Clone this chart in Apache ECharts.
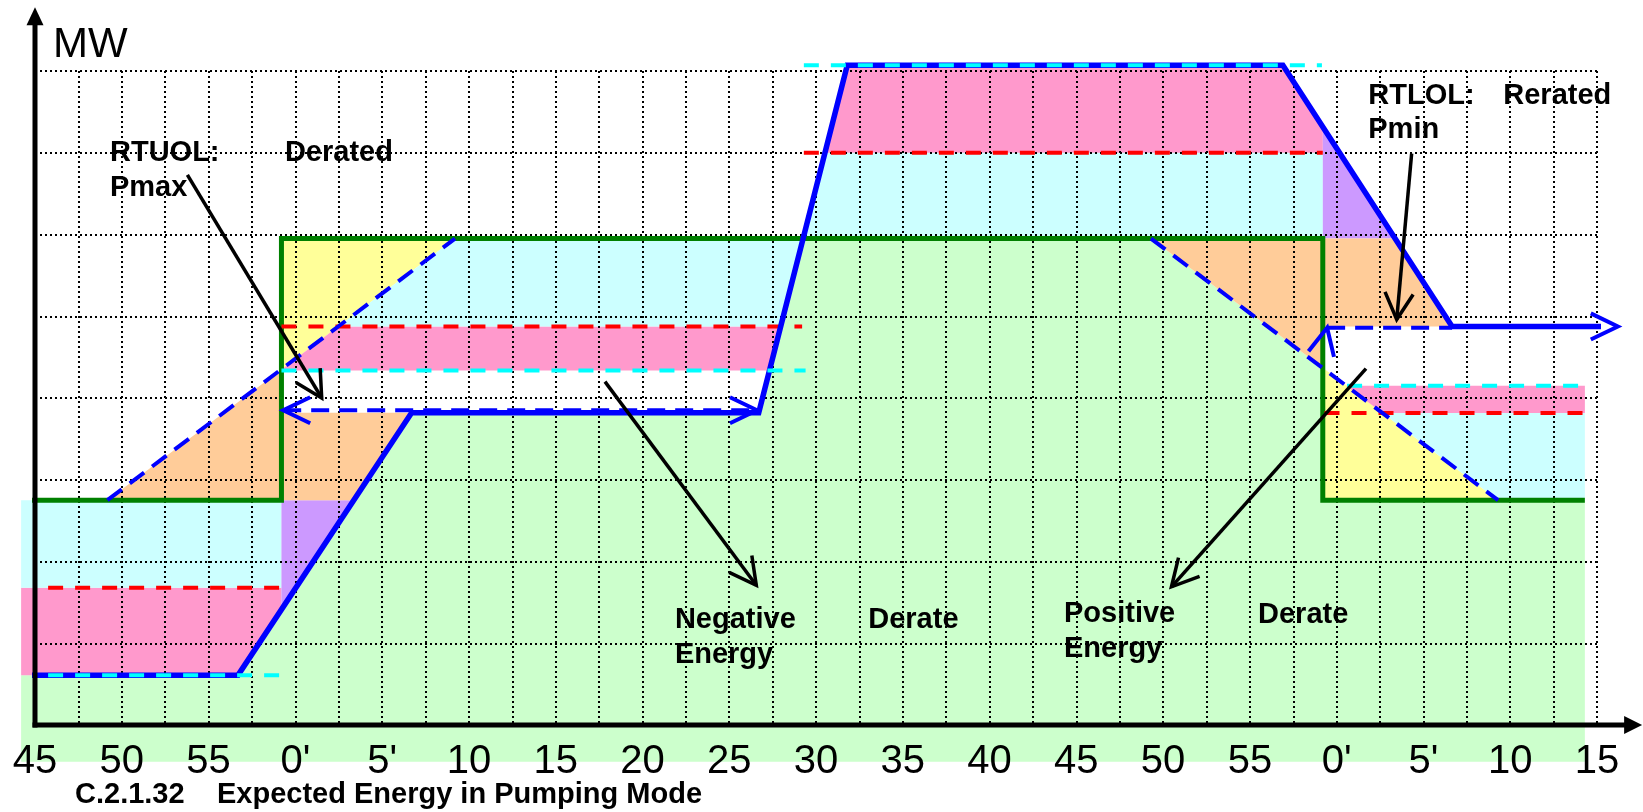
<!DOCTYPE html>
<html lang="en">
<head>
    <meta charset="UTF-8">
    <title>Expected Energy in Pumping Mode</title>
    <script src="https://cdn.jsdelivr.net/npm/echarts@6.0.0/dist/echarts.min.js"></script>
    <style>html, body { margin: 0; padding: 0; background: #fff; }</style>
</head>
<body>
    <div id="chart" style="width: 1643px; height: 812px;"></div>
    <script>
        // x = minutes after the 45' mark (0..90), y = MW in grid steps (0..8)
        const xTickLabels = ['45', '50', '55', "0'", "5'", '10', '15', '20', '25', '30',
                             '35', '40', '45', '50', '55', "0'", "5'", '10', '15'];

        // green step = schedule, blue = actual output
        const scheduleX = [-0.8, 14.2, 14.2, 74.2, 74.2, 89.3];
        const scheduleY = [2.75, 2.75, 5.95, 5.95, 2.75, 2.75];
        const outputX = [-0.8, 11.7, 21.7, 41.7, 46.8, 71.9, 81.65, 91.2];
        const outputY = [0.61, 0.61, 3.82, 3.82, 8.07, 8.07, 4.875, 4.875];

        // blue dashed ramps and dashed arrows: [x0, y0, x1, y1]
        const dashedBlue = [
            [4.17, 2.75, 24.2, 5.95],
            [64.3, 5.95, 84.3, 2.75],
            [14.3, 3.85, 41.6, 3.85],
            [74.45, 4.86, 81.65, 4.86]
        ];
        // dashed limits: [x0, x1, y]
        const redLimits = [[-0.8, 14.2, 1.68], [14.2, 44.2, 4.875], [44.3, 74.2, 7.0], [74.3, 89.3, 3.815]];
        const cyanLimits = [[-0.8, 14.2, 0.61], [14.2, 44.4, 4.335], [44.3, 74.15, 8.07], [75.6, 89.3, 4.15]];

        // shaded energy areas (polygons)
        const greenArea = [[-0.8, -0.45], [-0.8, 0.61], [11.7, 0.61], [21.7, 3.82], [41.7, 3.82], [44.26, 5.95],
                           [64.3, 5.95], [74.2, 4.37], [74.2, 2.75], [89.3, 2.75], [89.3, -0.45]];
        const pinkLeft = [[-0.8, 0.61], [11.7, 0.61], [14.2, 1.41], [14.2, 1.68], [-0.8, 1.68]];
        const cyanLeft = [[-0.8, 1.68], [14.2, 1.68], [14.2, 2.75], [-0.8, 2.75]];
        const lavLeft = [[14.2, 1.41], [18.37, 2.75], [14.2, 2.75]];
        const orangeLeft = [[4.17, 2.75], [18.37, 2.75], [21.7, 3.82], [14.2, 3.82], [14.2, 4.35]];
        const yellowLeft = [[14.2, 4.35], [24.2, 5.95], [14.2, 5.95]];
        const pinkMid = [[14.2, 4.335], [42.32, 4.335], [42.97, 4.875], [17.47, 4.875], [14.2, 4.35]];
        const cyanMid = [[17.47, 4.875], [42.97, 4.875], [44.26, 5.95], [24.2, 5.95]];
        const cyanTop = [[44.26, 5.95], [45.52, 7.0], [74.2, 7.0], [74.2, 5.95]];
        const pinkTop = [[45.52, 7.0], [46.8, 8.07], [71.9, 8.07], [74.2, 7.32], [74.2, 7.0]];
        const lavRight = [[74.2, 7.32], [78.37, 5.95], [74.2, 5.95]];
        const orangeRight = [[64.3, 5.95], [78.37, 5.95], [81.65, 4.875], [74.2, 4.875], [74.2, 4.37]];
        const yellowRight = [[74.2, 4.37], [84.3, 2.75], [74.2, 2.75]];
        const pinkRight = [[75.55, 4.15], [89.3, 4.15], [89.3, 3.815], [77.64, 3.815]];
        const cyanRight = [[77.64, 3.815], [89.3, 3.815], [89.3, 2.75], [84.3, 2.75]];

        // open blue arrow heads: [tipX, tipY, fromX, fromY]
        const blueHeads = [[91.2, 4.875, 89, 4.875], [14.3, 3.85, 16, 3.85], [41.6, 3.85, 39, 3.85], [74.45, 4.86, 74.04, 4.47]];
        // black callout arrows: [fromX, fromY, toX, toY]
        const callouts = [[8.78, 6.73, 16.52, 4.0], [32.84, 4.2, 41.56, 1.71], [76.69, 4.36, 65.48, 1.69], [79.32, 6.99, 78.46, 4.96]];

        // annotation texts (left edge, vertical middle)
        const noteText = ['RTUOL:', 'Derated', 'Pmax', 'Negative', 'Energy', 'Derate', 'Positive', 'Energy', 'Derate', 'RTLOL:', 'Rerated', 'Pmin'];
        const noteX = [4.32, 14.4, 4.32, 36.87, 36.87, 48.01, 59.29, 59.29, 70.47, 76.82, 84.6, 76.82];
        const noteY = [7.0, 7.0, 6.57, 1.285, 0.857, 1.285, 1.359, 0.93, 1.347, 7.69, 7.69, 7.275];

        const fills = [greenArea, pinkLeft, cyanLeft, lavLeft, orangeLeft, yellowLeft, pinkMid, cyanMid,
                       cyanTop, pinkTop, lavRight, orangeRight, yellowRight, pinkRight, cyanRight];
        const fillColors = ['#CCFFCC', '#FF99CC', '#CCFFFF', '#CC99FF', '#FFCC99', '#FFFF99', '#FF99CC', '#CCFFFF',
                            '#CCFFFF', '#FF99CC', '#CC99FF', '#FFCC99', '#FFFF99', '#FF99CC', '#CCFFFF'];

        const FONT = '"Liberation Sans", Arial, sans-serif';

        function openHead(tip, from, len, ang) {
            const dx = from[0] - tip[0], dy = from[1] - tip[1];
            const d = Math.hypot(dx, dy);
            const ux = dx / d, uy = dy / d;
            const c = Math.cos(ang), s = Math.sin(ang);
            return [
                [tip[0] + len * (ux * c - uy * s), tip[1] + len * (ux * s + uy * c)],
                tip,
                [tip[0] + len * (ux * c + uy * s), tip[1] + len * (-ux * s + uy * c)]
            ];
        }

        function lineSeries(pts, style, z) {
            return {
                type: 'line', data: pts, symbol: 'none', clip: false, silent: true, z: z,
                lineStyle: Object.assign({ join: 'miter', cap: 'butt' }, style)
            };
        }

        var myChart = echarts.init(document.getElementById('chart'));

        const series = [];

        // shaded areas
        series.push({
            type: 'custom', coordinateSystem: 'cartesian2d', clip: false, silent: true, z: 1,
            data: fills.map(() => [0, 0]),
            renderItem: function (params, api) {
                const i = params.dataIndex;
                return {
                    type: 'polygon',
                    shape: { points: fills[i].map(p => api.coord(p)) },
                    style: { fill: fillColors[i] }
                };
            }
        });

        series.push(lineSeries(scheduleX.map((x, i) => [x, scheduleY[i]]), { color: '#008000', width: 5 }, 4));
        redLimits.forEach(r => series.push(lineSeries([[r[0], r[2]], [r[1], r[2]]], { color: '#FF0000', width: 4, type: [15, 12] }, 5)));
        dashedBlue.forEach(d => series.push(lineSeries([[d[0], d[1]], [d[2], d[3]]], { color: '#0000FF', width: 4, type: [18, 10] }, 5)));
        series.push(lineSeries(outputX.map((x, i) => [x, outputY[i]]), { color: '#0000FF', width: 5.5 }, 6));
        cyanLimits.forEach(r => series.push(lineSeries([[r[0], r[2]], [r[1], r[2]]], { color: '#00FFFF', width: 4, type: [15, 12] }, 7)));

        // blue arrow heads
        series.push({
            type: 'custom', coordinateSystem: 'cartesian2d', clip: false, silent: true, z: 7,
            data: blueHeads.map(() => [0, 0]),
            renderItem: function (params, api) {
                const h = blueHeads[params.dataIndex];
                return {
                    type: 'polyline',
                    shape: { points: openHead(api.coord([h[0], h[1]]), api.coord([h[2], h[3]]), 30, 0.45) },
                    style: { stroke: '#0000FF', lineWidth: 4, fill: null }
                };
            }
        });

        // black callouts
        series.push({
            type: 'custom', coordinateSystem: 'cartesian2d', clip: false, silent: true, z: 8,
            data: callouts.map(() => [0, 0]),
            renderItem: function (params, api) {
                const c = callouts[params.dataIndex];
                const a = api.coord([c[0], c[1]]), b = api.coord([c[2], c[3]]);
                return {
                    type: 'group',
                    children: [
                        { type: 'line', shape: { x1: a[0], y1: a[1], x2: b[0], y2: b[1] }, style: { stroke: '#000', lineWidth: 3.5 } },
                        { type: 'polyline', shape: { points: openHead(b, a, 30, 0.49) }, style: { stroke: '#000', lineWidth: 3.5, fill: null } }
                    ]
                };
            }
        });

        // axes with arrows
        series.push({
            type: 'custom', coordinateSystem: 'cartesian2d', clip: false, silent: true, z: 8,
            data: [[0, 0]],
            renderItem: function (params, api) {
                const o = api.coord([0, 0]);
                const ty = api.coord([0, 8.78]);
                const tx = api.coord([92.6, 0]);
                return {
                    type: 'group',
                    children: [
                        { type: 'line', shape: { x1: o[0], y1: o[1] + 2.5, x2: ty[0], y2: ty[1] + 14 }, style: { stroke: '#000', lineWidth: 5 } },
                        { type: 'line', shape: { x1: o[0] - 2.5, y1: o[1], x2: tx[0] - 14, y2: tx[1] }, style: { stroke: '#000', lineWidth: 5 } },
                        { type: 'polygon', shape: { points: [ty, [ty[0] - 8.5, ty[1] + 18], [ty[0] + 8.5, ty[1] + 18]] }, style: { fill: '#000' } },
                        { type: 'polygon', shape: { points: [tx, [tx[0] - 18, tx[1] - 9], [tx[0] - 18, tx[1] + 9]] }, style: { fill: '#000' } }
                    ]
                };
            }
        });

        // annotation texts
        series.push({
            type: 'custom', coordinateSystem: 'cartesian2d', clip: false, silent: true, z: 9,
            data: noteText.map(() => [0, 0]),
            renderItem: function (params, api) {
                const i = params.dataIndex;
                const p = api.coord([noteX[i], noteY[i]]);
                return {
                    type: 'text', x: p[0], y: p[1],
                    style: { text: noteText[i], fill: '#000', font: 'bold 29px ' + FONT, align: 'left', verticalAlign: 'middle' }
                };
            }
        });

        const option = {
            animation: false,
            grid: { left: 35, right: 46, top: 71, bottom: 87, outerBoundsMode: 'none' },
            xAxis: {
                type: 'value', min: 0, max: 90, interval: 2.5, z: 3,
                axisLine: { show: false }, axisTick: { show: false },
                splitLine: { show: true, lineStyle: { color: '#000', width: 2, type: [2, 3] } },
                axisLabel: {
                    margin: 17, color: '#000', fontSize: 40, fontFamily: FONT,
                    formatter: function (v) { return v % 5 === 0 ? xTickLabels[v / 5] : ''; }
                }
            },
            yAxis: {
                type: 'value', min: 0, max: 8, interval: 1, z: 3,
                axisLine: { show: false }, axisTick: { show: false }, axisLabel: { show: false },
                splitLine: { show: true, lineStyle: { color: '#000', width: 2, type: [2, 3] } }
            },
            graphic: [
                { type: 'text', x: 53, y: 45, z: 10, style: { text: 'MW', fill: '#000', font: '42px ' + FONT, verticalAlign: 'middle' } },
                { type: 'text', x: 75, y: 795, z: 10, style: { text: 'C.2.1.32', fill: '#000', font: 'bold 29px ' + FONT, verticalAlign: 'middle' } },
                { type: 'text', x: 217, y: 795, z: 10, style: { text: 'Expected Energy in Pumping Mode', fill: '#000', font: 'bold 29px ' + FONT, verticalAlign: 'middle' } }
            ],
            series: series
        };

        myChart.setOption(option);
    </script>
</body>
</html>
